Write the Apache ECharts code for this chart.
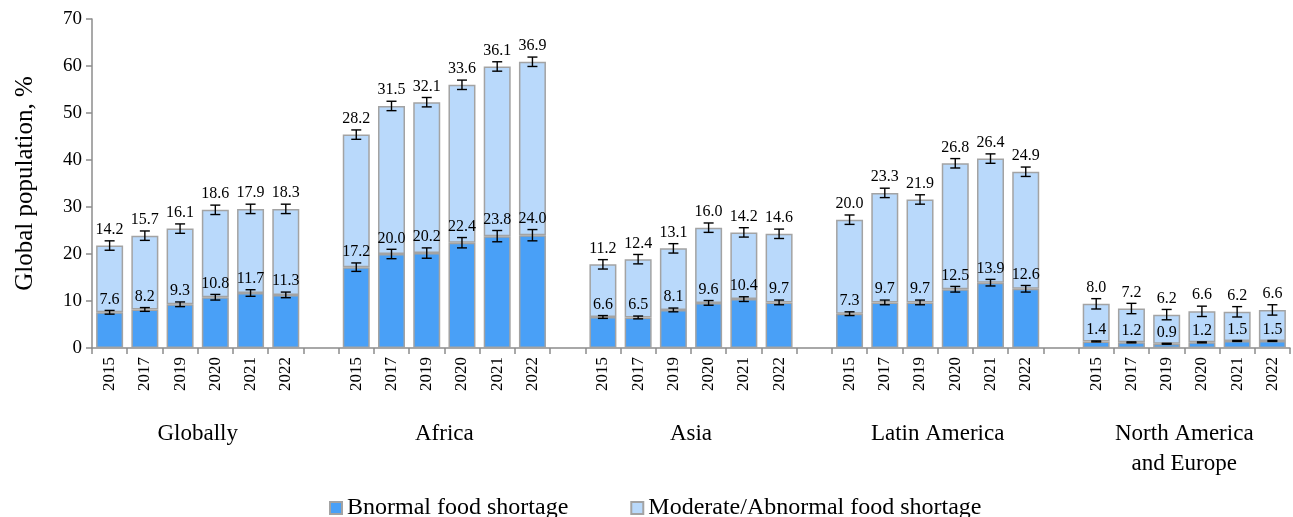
<!DOCTYPE html>
<html>
<head>
<meta charset="utf-8">
<script src="https://cdn.jsdelivr.net/npm/echarts@6/dist/echarts.min.js"></script>
<style>
  html, body { margin: 0; padding: 0; background: #fff; }
  #chart { width: 1293px; height: 517px; }
</style>
</head>
<body>
<div id="chart"></div>
<script>
// data
const groups = ['Globally', 'Africa', 'Asia', 'Latin America', 'North America\nand Europe'];
const years = ['2015', '2017', '2019', '2020', '2021', '2022'];

const bnormal = [
  [7.6, 8.2, 9.3, 10.8, 11.7, 11.3],
  [17.2, 20.0, 20.2, 22.4, 23.8, 24.0],
  [6.6, 6.5, 8.1, 9.6, 10.4, 9.7],
  [7.3, 9.7, 9.7, 12.5, 13.9, 12.6],
  [1.4, 1.2, 0.9, 1.2, 1.5, 1.5]
];
const moderate = [
  [14.2, 15.7, 16.1, 18.6, 17.9, 18.3],
  [28.2, 31.5, 32.1, 33.6, 36.1, 36.9],
  [11.2, 12.4, 13.1, 16.0, 14.2, 14.6],
  [20.0, 23.3, 21.9, 26.8, 26.4, 24.9],
  [8.0, 7.2, 6.2, 6.6, 6.2, 6.6]
];
// error bar half-widths (estimated)
const bnormalErr = [
  [0.4, 0.4, 0.5, 0.6, 0.7, 0.6],
  [0.9, 1.0, 1.1, 1.1, 1.2, 1.2],
  [0.3, 0.3, 0.4, 0.5, 0.5, 0.5],
  [0.4, 0.5, 0.5, 0.6, 0.7, 0.7],
  [0.1, 0.1, 0.1, 0.1, 0.1, 0.1]
];
const moderateErr = [
  [1.0, 1.0, 1.0, 1.0, 1.0, 1.0],
  [1.0, 1.0, 1.0, 1.0, 1.0, 1.0],
  [1.0, 1.0, 1.0, 1.0, 1.0, 1.0],
  [1.0, 1.0, 1.0, 1.0, 1.0, 1.0],
  [1.1, 1.1, 1.1, 1.1, 1.1, 1.1]
];

// build the category axis with one empty slot between groups
const cats = [];
const lowData = [];
const highData = [];
const errData = [];
const groupCenters = [];
groups.forEach((g, gi) => {
  if (gi > 0) {
    cats.push('');
    lowData.push('-');
    highData.push('-');
  }
  const start = cats.length;
  years.forEach((y, yi) => {
    const idx = cats.length;
    cats.push(y);
    const lo = bnormal[gi][yi];
    const hi = moderate[gi][yi];
    lowData.push(lo);
    highData.push(hi);
    errData.push([idx, lo, bnormalErr[gi][yi], lo]);
    errData.push([idx, +(lo + hi).toFixed(2), moderateErr[gi][yi], hi]);
  });
  groupCenters.push(start + years.length / 2);
});

const font = 'Liberation Serif';
const axisGray = '#8c8c8c';

const chart = echarts.init(document.getElementById('chart'));

const option = {
  animation: false,
  textStyle: { fontFamily: font, color: '#000' },
  grid: { left: 92, right: 3, top: 19, bottom: 169, containLabel: false },
  legend: {
    top: 491,
    left: 324,
    itemWidth: 12,
    itemHeight: 12,
    itemGap: 62,
    icon: 'rect',
    textStyle: { fontFamily: font, fontSize: 24, color: '#000' },
    data: ['Bnormal food shortage', 'Moderate/Abnormal food shortage']
  },
  xAxis: [
    {
      type: 'category',
      data: cats,
      axisLine: { lineStyle: { color: axisGray, width: 1.5 } },
      axisTick: { show: true, interval: 0, length: 6, lineStyle: { color: axisGray, width: 1.5 } },
      axisLabel: {
        interval: 0,
        rotate: 90,
        margin: 9,
        fontFamily: font,
        fontSize: 17,
        color: '#000'
      }
    },
    {
      type: 'value',
      position: 'bottom',
      min: 0,
      max: cats.length,
      axisLine: { show: false },
      axisTick: { show: false },
      splitLine: { show: false },
      axisLabel: {
        customValues: groupCenters,
        margin: 71,
        fontFamily: font,
        fontSize: 23,
        lineHeight: 30,
        color: '#000',
        verticalAlign: 'top',
        formatter: (v) => {
          const i = groupCenters.indexOf(v);
          return i >= 0 ? groups[i] : '';
        }
      }
    }
  ],
  yAxis: {
    type: 'value',
    min: 0,
    max: 70,
    interval: 10,
    name: 'Global population, %',
    nameLocation: 'middle',
    nameGap: 54,
    nameRotate: 90,
    nameTextStyle: { fontFamily: font, fontSize: 25, color: '#000' },
    axisLine: { show: true, lineStyle: { color: axisGray, width: 1.5 } },
    axisTick: { show: true, length: 6, lineStyle: { color: axisGray, width: 1.5 } },
    axisLabel: { fontFamily: font, fontSize: 19, color: '#000', margin: 10 },
    splitLine: { show: false }
  },
  series: [
    {
      name: 'Bnormal food shortage',
      type: 'bar',
      stack: 'total',
      barWidth: 27,
      data: lowData,
      itemStyle: { color: '#49a0f7', borderColor: '#a3a3a3', borderWidth: 1.5 }
    },
    {
      name: 'Moderate/Abnormal food shortage',
      type: 'bar',
      stack: 'total',
      barWidth: 27,
      data: highData,
      itemStyle: { color: '#b9d9fb', borderColor: '#a3a3a3', borderWidth: 1.5 }
    },
    {
      name: 'errors',
      type: 'custom',
      z: 10,
      silent: true,
      data: errData,
      encode: { x: 0, y: 1 },
      renderItem: (params, api) => {
        const x = api.value(0);
        const c = api.value(1);
        const e = api.value(2);
        const lab = api.value(3);
        const top = api.coord([x, c + e]);
        const bot = api.coord([x, c - e]);
        const half = 5;
        const st = { stroke: '#000', lineWidth: 1.4 };
        return {
          type: 'group',
          children: [
            { type: 'line', shape: { x1: top[0], y1: top[1], x2: bot[0], y2: bot[1] }, style: st },
            { type: 'line', shape: { x1: top[0] - half, y1: top[1], x2: top[0] + half, y2: top[1] }, style: st },
            { type: 'line', shape: { x1: bot[0] - half, y1: bot[1], x2: bot[0] + half, y2: bot[1] }, style: st },
            {
              type: 'text',
              style: {
                x: top[0],
                y: top[1] - 3,
                text: lab.toFixed(1),
                align: 'center',
                verticalAlign: 'bottom',
                fontFamily: font,
                fontSize: 16,
                fill: '#000'
              }
            }
          ]
        };
      }
    }
  ]
};

chart.setOption(option);
</script>
</body>
</html>
